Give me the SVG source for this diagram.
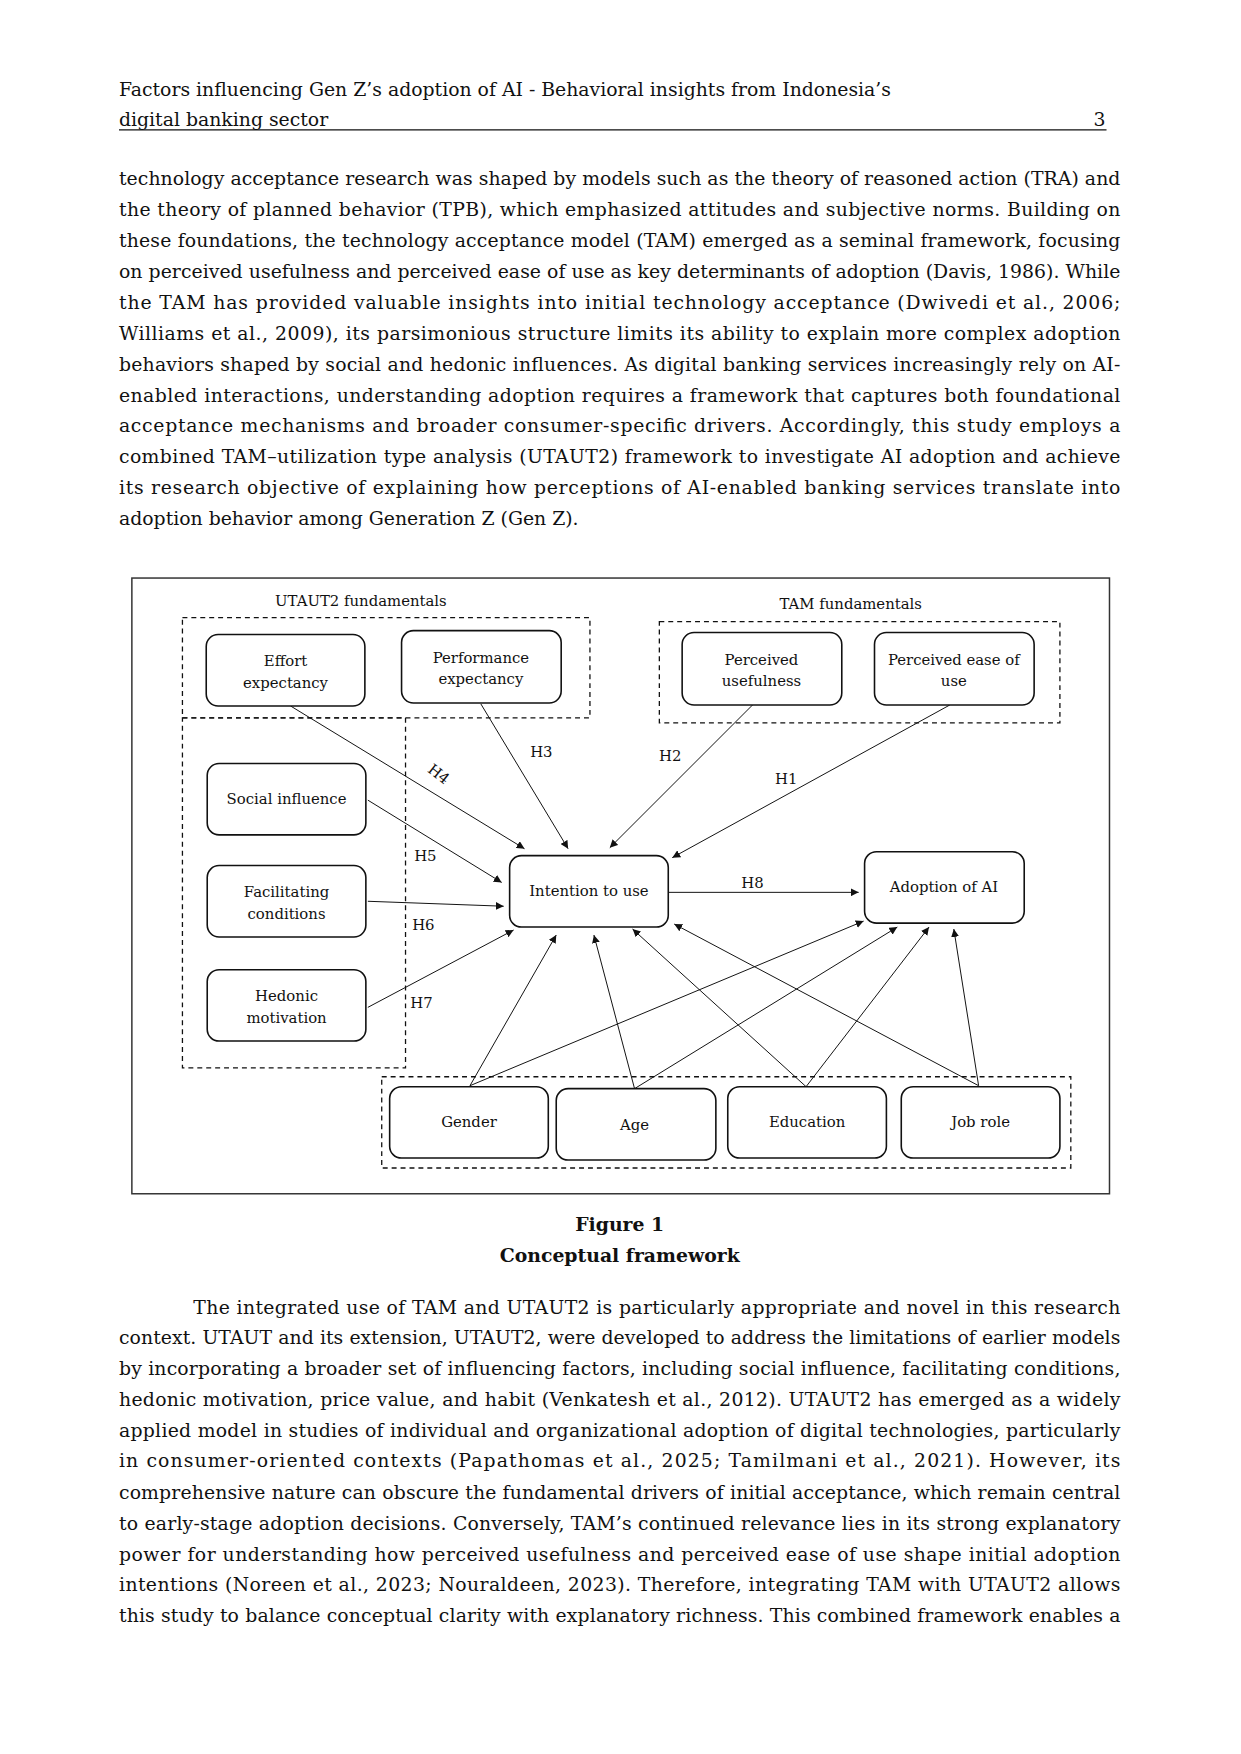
<svg xmlns="http://www.w3.org/2000/svg" width="1241" height="1754" viewBox="0 0 1241 1754">
<style>
.t{font-family:"DejaVu Serif","Liberation Serif",serif;font-size:19px;fill:#111}
.n{font-family:"DejaVu Serif","Liberation Serif",serif;font-size:15px;fill:#111;text-anchor:middle}
.b{fill:#fff;stroke:#111;stroke-width:1.6}
.d{fill:none;stroke:#111;stroke-width:1.3;stroke-dasharray:5,4}
.c line{stroke:#111;stroke-width:1}
</style>
<defs><marker id="a" viewBox="0 0 10 10" refX="10" refY="5" markerWidth="8" markerHeight="8" orient="auto" markerUnits="userSpaceOnUse"><path d="M0,0L10,5L0,10z" fill="#111"/></marker></defs>
<rect width="1241" height="1754" fill="#fff"/>
<g transform="scale(0.9915)">
<text class="t" x="120" y="97">Factors influencing Gen Z’s adoption of AI - Behavioral insights from Indonesia’s</text>
<text class="t" x="120" y="127">digital banking sector</text>
<text class="t" x="1115" y="127" text-anchor="end">3</text>
<line x1="120" y1="131" x2="1116" y2="131" stroke="#111" stroke-width="1.2"/>
<g class="t">
<text x="120" y="187" textLength="1010" lengthAdjust="spacing">technology acceptance research was shaped by models such as the theory of reasoned action (TRA) and</text>
<text x="120" y="218" textLength="1010" lengthAdjust="spacing">the theory of planned behavior (TPB), which emphasized attitudes and subjective norms. Building on</text>
<text x="120" y="249" textLength="1010" lengthAdjust="spacing">these foundations, the technology acceptance model (TAM) emerged as a seminal framework, focusing</text>
<text x="120" y="280" textLength="1010" lengthAdjust="spacing">on perceived usefulness and perceived ease of use as key determinants of adoption (Davis, 1986). While</text>
<text x="120" y="312" textLength="1010" lengthAdjust="spacing">the TAM has provided valuable insights into initial technology acceptance (Dwivedi et al., 2006;</text>
<text x="120" y="343" textLength="1010" lengthAdjust="spacing">Williams et al., 2009), its parsimonious structure limits its ability to explain more complex adoption</text>
<text x="120" y="374" textLength="1010" lengthAdjust="spacing">behaviors shaped by social and hedonic influences. As digital banking services increasingly rely on AI-</text>
<text x="120" y="405" textLength="1010" lengthAdjust="spacing">enabled interactions, understanding adoption requires a framework that captures both foundational</text>
<text x="120" y="436" textLength="1010" lengthAdjust="spacing">acceptance mechanisms and broader consumer-specific drivers. Accordingly, this study employs a</text>
<text x="120" y="467" textLength="1010" lengthAdjust="spacing">combined TAM–utilization type analysis (UTAUT2) framework to investigate AI adoption and achieve</text>
<text x="120" y="498" textLength="1010" lengthAdjust="spacing">its research objective of explaining how perceptions of AI-enabled banking services translate into</text>
<text x="120" y="530">adoption behavior among Generation Z (Gen Z).</text>
<text x="195" y="1325" textLength="935" lengthAdjust="spacing">The integrated use of TAM and UTAUT2 is particularly appropriate and novel in this research</text>
<text x="120" y="1356" textLength="1010" lengthAdjust="spacing">context. UTAUT and its extension, UTAUT2, were developed to address the limitations of earlier models</text>
<text x="120" y="1387" textLength="1010" lengthAdjust="spacing">by incorporating a broader set of influencing factors, including social influence, facilitating conditions,</text>
<text x="120" y="1418" textLength="1010" lengthAdjust="spacing">hedonic motivation, price value, and habit (Venkatesh et al., 2012). UTAUT2 has emerged as a widely</text>
<text x="120" y="1449" textLength="1010" lengthAdjust="spacing">applied model in studies of individual and organizational adoption of digital technologies, particularly</text>
<text x="120" y="1480" textLength="1010" lengthAdjust="spacing">in consumer-oriented contexts (Papathomas et al., 2025; Tamilmani et al., 2021). However, its</text>
<text x="120" y="1512" textLength="1010" lengthAdjust="spacing">comprehensive nature can obscure the fundamental drivers of initial acceptance, which remain central</text>
<text x="120" y="1543" textLength="1010" lengthAdjust="spacing">to early-stage adoption decisions. Conversely, TAM’s continued relevance lies in its strong explanatory</text>
<text x="120" y="1574" textLength="1010" lengthAdjust="spacing">power for understanding how perceived usefulness and perceived ease of use shape initial adoption</text>
<text x="120" y="1605" textLength="1010" lengthAdjust="spacing">intentions (Noreen et al., 2023; Nouraldeen, 2023). Therefore, integrating TAM with UTAUT2 allows</text>
<text x="120" y="1636" textLength="1010" lengthAdjust="spacing">this study to balance conceptual clarity with explanatory richness. This combined framework enables a</text>
</g>
<text class="t" x="625" y="1242" text-anchor="middle" font-weight="bold" font-size="18.5">Figure 1</text>
<text class="t" x="625" y="1273" text-anchor="middle" font-weight="bold" font-size="18.5">Conceptual framework</text>

<rect x="133" y="583" width="986" height="621" fill="none" stroke="#333" stroke-width="1.5"/>
<g id="groups">
<rect class="d" x="184" y="623" width="411" height="101"/>
<rect class="d" x="665" y="627" width="404" height="102"/>
<rect class="d" x="184" y="724" width="225" height="353"/>
<rect class="d" x="385" y="1086" width="695" height="92"/>
<text class="n" x="364" y="611">UTAUT2 fundamentals</text>
<text class="n" x="858" y="614">TAM fundamentals</text>
</g>
<g id="connectors" class="c">
<line x1="293" y1="712" x2="529" y2="856" marker-end="url(#a)"/>
<line x1="485" y1="710" x2="573" y2="856" marker-end="url(#a)"/>
<line x1="759" y1="711" x2="615" y2="855" marker-end="url(#a)"/>
<line x1="958" y1="711" x2="678" y2="865" marker-end="url(#a)"/>
<line x1="371" y1="807" x2="506" y2="890" marker-end="url(#a)"/>
<line x1="371" y1="909" x2="508" y2="914" marker-end="url(#a)"/>
<line x1="371" y1="1016" x2="518" y2="938" marker-end="url(#a)"/>
<line x1="674" y1="900" x2="866" y2="900" marker-end="url(#a)"/>
<line x1="474" y1="1095" x2="561" y2="943" marker-end="url(#a)"/>
<line x1="474" y1="1095" x2="871" y2="929" marker-end="url(#a)"/>
<line x1="640" y1="1098" x2="599" y2="943" marker-end="url(#a)"/>
<line x1="640" y1="1098" x2="905" y2="935" marker-end="url(#a)"/>
<line x1="813" y1="1096" x2="638" y2="937" marker-end="url(#a)"/>
<line x1="813" y1="1096" x2="937" y2="935" marker-end="url(#a)"/>
<line x1="987" y1="1095" x2="680" y2="932" marker-end="url(#a)"/>
<line x1="987" y1="1095" x2="962" y2="937" marker-end="url(#a)"/>
<g class="n">
<text x="546" y="764">H3</text>
<text x="676" y="768">H2</text>
<text x="793" y="791">H1</text>
<text x="443" y="786" transform="rotate(38 443 780)">H4</text>
<text x="429" y="868">H5</text>
<text x="427" y="938">H6</text>
<text x="425" y="1017">H7</text>
<text x="759" y="896">H8</text>
</g>
</g>
<g id="effort"><rect class="b" x="208" y="640" width="160" height="72" rx="12"/><text class="n" x="288" y="672">Effort</text><text class="n" x="288" y="694">expectancy</text></g>
<g id="performance"><rect class="b" x="405" y="636" width="161" height="73" rx="12"/><text class="n" x="485" y="669">Performance</text><text class="n" x="485" y="690">expectancy</text></g>
<g id="usefulness"><rect class="b" x="688" y="638" width="161" height="73" rx="12"/><text class="n" x="768" y="671">Perceived</text><text class="n" x="768" y="692">usefulness</text></g>
<g id="ease"><rect class="b" x="882" y="638" width="161" height="73" rx="12"/><text class="n" x="962" y="671">Perceived ease of</text><text class="n" x="962" y="692">use</text></g>
<g id="social"><rect class="b" x="209" y="770" width="160" height="72" rx="12"/><text class="n" x="289" y="811">Social influence</text></g>
<g id="facilitating"><rect class="b" x="209" y="873" width="160" height="72" rx="12"/><text class="n" x="289" y="905">Facilitating</text><text class="n" x="289" y="927">conditions</text></g>
<g id="hedonic"><rect class="b" x="209" y="978" width="160" height="72" rx="12"/><text class="n" x="289" y="1010">Hedonic</text><text class="n" x="289" y="1032">motivation</text></g>
<g id="intention"><rect class="b" x="514" y="863" width="160" height="72" rx="12"/><text class="n" x="594" y="904">Intention to use</text></g>
<g id="adoption"><rect class="b" x="872" y="859" width="161" height="72" rx="12"/><text class="n" x="952" y="900">Adoption of AI</text></g>
<g id="gender"><rect class="b" x="393" y="1096" width="160" height="72" rx="12"/><text class="n" x="473" y="1137">Gender</text></g>
<g id="age"><rect class="b" x="561" y="1098" width="161" height="72" rx="12"/><text class="n" x="640" y="1140">Age</text></g>
<g id="education"><rect class="b" x="734" y="1096" width="160" height="72" rx="12"/><text class="n" x="814" y="1137">Education</text></g>
<g id="jobrole"><rect class="b" x="909" y="1096" width="160" height="72" rx="12"/><text class="n" x="989" y="1137">Job role</text></g>
</g>
</svg>
